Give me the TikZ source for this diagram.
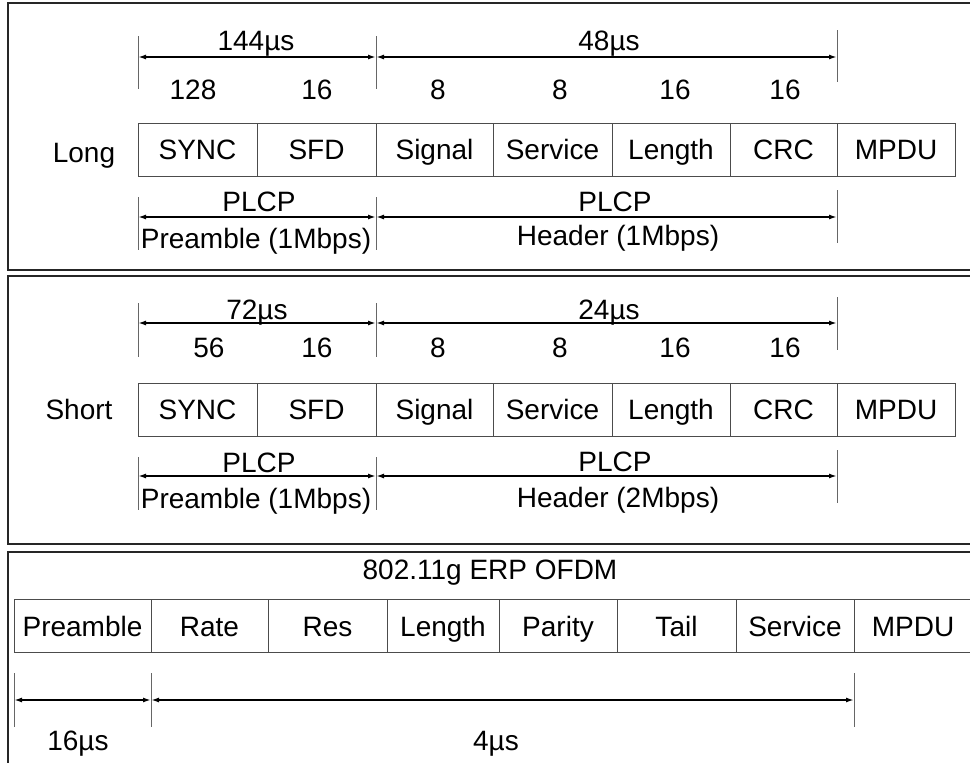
\documentclass[tikz,border=0pt]{standalone}
\usepackage{fontspec}
\setmainfont{Liberation Sans}
\usetikzlibrary{arrows.meta}
\begin{document}
\begin{tikzpicture}[x=1pt,y=-1pt,
  txt/.style={inner sep=0pt, font=\fontsize{28}{31}\selectfont, text height=20pt, text depth=0pt, anchor=center},
  fld/.style={draw=black!70, line width=1pt, inner sep=0pt, minimum height=53pt, text height=20pt, text depth=0pt, font=\fontsize{28}{31}\selectfont},
  frame/.style={draw=black!85, line width=1.5pt},
  tickln/.style={draw=black!60, line width=1pt},
  dim/.style={line width=1.8pt, {Latex[length=8pt,width=5pt]}-{Latex[length=8pt,width=5pt]}}
]
\useasboundingbox (0,0) rectangle (970,763);
\clip (0,0) rectangle (970,763);

% ---------------- Panel 1 : Long ----------------
\draw[frame] (8,3) rectangle (990,270);
\node[txt] (long) at (84,152) {Long};
\node[fld, minimum width=119pt] (l1) at (197.5,149.5) {SYNC};
\node[fld, minimum width=119pt] (l2) at (316.5,149.5) {SFD};
\node[fld, minimum width=117pt] (l3) at (434.5,149.5) {Signal};
\node[fld, minimum width=119pt] (l4) at (552.5,149.5) {Service};
\node[fld, minimum width=118pt] (l5) at (671,149.5) {Length};
\node[fld, minimum width=107pt] (l6) at (783.5,149.5) {CRC};
\node[fld, minimum width=118pt] (l7) at (896,149.5) {MPDU};
% numbers
\node[txt] (ln1) at (193,89) {128};
\node[txt] (ln2) at (317,89) {16};
\node[txt] (ln3) at (438,89) {8};
\node[txt] (ln4) at (560,89) {8};
\node[txt] (ln5) at (675,89) {16};
\node[txt] (ln6) at (785,89) {16};
% top dimension
\coordinate (lta) at (138,57); \coordinate (ltb) at (376,57); \coordinate (ltc) at (837,57);
\coordinate (lta1) at (138,36); \coordinate (lta2) at (138,89);
\coordinate (ltb1) at (376,36); \coordinate (ltb2) at (376,89);
\coordinate (ltc1) at (837,30); \coordinate (ltc2) at (837,82);
\draw[tickln] (lta1) -- (lta2); \draw[tickln] (ltb1) -- (ltb2); \draw[tickln] (ltc1) -- (ltc2);
\draw[dim] (lta) -- (ltb); \draw[dim] (ltb) -- (ltc);
\node[txt] (lt1) at (256,40) {144µs};
\node[txt] (lt2) at (609,40) {48µs};
% bottom dimension
\coordinate (lba) at (138,217); \coordinate (lbb) at (376,217); \coordinate (lbc) at (837,217);
\coordinate (lba1) at (138,197); \coordinate (lba2) at (138,250);
\coordinate (lbb1) at (376,197); \coordinate (lbb2) at (376,250);
\coordinate (lbc1) at (837,190); \coordinate (lbc2) at (837,243);
\draw[tickln] (lba1) -- (lba2); \draw[tickln] (lbb1) -- (lbb2); \draw[tickln] (lbc1) -- (lbc2);
\draw[dim] (lba) -- (lbb); \draw[dim] (lbb) -- (lbc);
\node[txt] (lp1) at (259,201) {PLCP};
\node[txt] (lp2) at (256,238) {Preamble (1Mbps)};
\node[txt] (lh1) at (615,201) {PLCP};
\node[txt] (lh2) at (618,235) {Header (1Mbps)};

% ---------------- Panel 2 : Short ----------------
\draw[frame] (8,276) rectangle (990,544);
\node[txt] (short) at (79,409.5) {Short};
\node[fld, minimum width=119pt] (s1) at (197.5,409.5) {SYNC};
\node[fld, minimum width=119pt] (s2) at (316.5,409.5) {SFD};
\node[fld, minimum width=117pt] (s3) at (434.5,409.5) {Signal};
\node[fld, minimum width=119pt] (s4) at (552.5,409.5) {Service};
\node[fld, minimum width=118pt] (s5) at (671,409.5) {Length};
\node[fld, minimum width=107pt] (s6) at (783.5,409.5) {CRC};
\node[fld, minimum width=118pt] (s7) at (896,409.5) {MPDU};
% numbers
\node[txt] (sn1) at (209,347) {56};
\node[txt] (sn2) at (317,347) {16};
\node[txt] (sn3) at (438,347) {8};
\node[txt] (sn4) at (560,347) {8};
\node[txt] (sn5) at (675,347) {16};
\node[txt] (sn6) at (785,347) {16};
% top dimension
\coordinate (sta) at (138,323); \coordinate (stb) at (376,323); \coordinate (stc) at (837,323);
\coordinate (sta1) at (138,303); \coordinate (sta2) at (138,357);
\coordinate (stb1) at (376,303); \coordinate (stb2) at (376,357);
\coordinate (stc1) at (837,297); \coordinate (stc2) at (837,350);
\draw[tickln] (sta1) -- (sta2); \draw[tickln] (stb1) -- (stb2); \draw[tickln] (stc1) -- (stc2);
\draw[dim] (sta) -- (stb); \draw[dim] (stb) -- (stc);
\node[txt] (st1) at (257,309.5) {72µs};
\node[txt] (st2) at (609,309.5) {24µs};
% bottom dimension
\coordinate (sba) at (138,476); \coordinate (sbb) at (376,476); \coordinate (sbc) at (837,476);
\coordinate (sba1) at (138,457); \coordinate (sba2) at (138,510);
\coordinate (sbb1) at (376,457); \coordinate (sbb2) at (376,510);
\coordinate (sbc1) at (837,450); \coordinate (sbc2) at (837,503);
\draw[tickln] (sba1) -- (sba2); \draw[tickln] (sbb1) -- (sbb2); \draw[tickln] (sbc1) -- (sbc2);
\draw[dim] (sba) -- (sbb); \draw[dim] (sbb) -- (sbc);
\node[txt] (sp1) at (259,462) {PLCP};
\node[txt] (sp2) at (256,498) {Preamble (1Mbps)};
\node[txt] (sh1) at (615,461.5) {PLCP};
\node[txt] (sh2) at (618,497) {Header (2Mbps)};

% ---------------- Panel 3 : ERP OFDM ----------------
\draw[frame] (8,552) rectangle (990,800);
\node[txt] (gtitle) at (490,569) {802.11g ERP OFDM};
\node[fld, minimum width=137pt] (g1) at (82.5,626) {Preamble};
\node[fld, minimum width=117pt] (g2) at (209.5,626) {Rate};
\node[fld, minimum width=119pt] (g3) at (327.5,626) {Res};
\node[fld, minimum width=112pt] (g4) at (443,626) {Length};
\node[fld, minimum width=118pt] (g5) at (558,626) {Parity};
\node[fld, minimum width=119pt] (g6) at (676.5,626) {Tail};
\node[fld, minimum width=118pt] (g7) at (795,626) {Service};
\node[fld, minimum width=118pt] (g8) at (913,626) {MPDU};
% dimension
\coordinate (ga) at (14,700); \coordinate (gb) at (151,700); \coordinate (gc) at (854,700);
\coordinate (ga1) at (14,673); \coordinate (ga2) at (14,727);
\coordinate (gb1) at (151,673); \coordinate (gb2) at (151,727);
\coordinate (gc1) at (854,673); \coordinate (gc2) at (854,727);
\draw[tickln] (ga1) -- (ga2); \draw[tickln] (gb1) -- (gb2); \draw[tickln] (gc1) -- (gc2);
\draw[dim] (ga) -- (gb); \draw[dim] (gb) -- (gc);
\node[txt] (gt1) at (78,740) {16µs};
\node[txt] (gt2) at (496,740) {4µs};
\end{tikzpicture}
\end{document}
